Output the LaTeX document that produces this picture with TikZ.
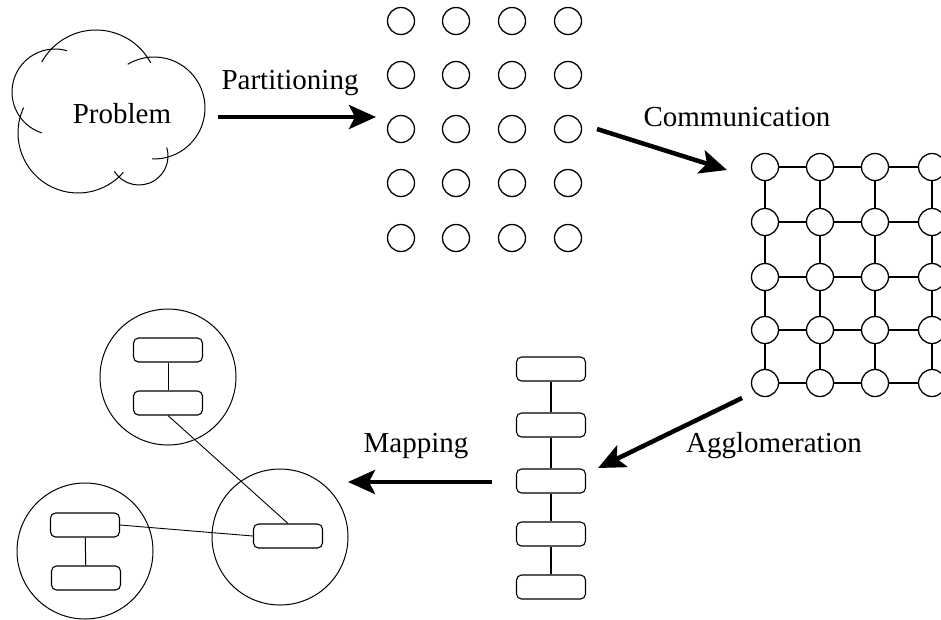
\documentclass[tikz,border=0pt]{standalone}
\usepackage{fontspec}
\setmainfont{Liberation Serif}
\usetikzlibrary{arrows.meta}
\tikzset{
  dot/.style={circle,draw,line width=1.3pt,minimum size=27pt,inner sep=0pt},
  task/.style={rounded corners=5pt,draw,line width=1.1pt,minimum width=69pt,minimum height=24pt,inner sep=0pt},
  proc/.style={circle,draw,line width=1pt,minimum size=136pt,inner sep=0pt},
  puff/.style={line width=1pt},
  lbl/.style={font=\fontsize{29}{32}\selectfont,inner sep=0pt,anchor=base},
  bigarrow/.style={line width=4.5pt,-{Stealth[length=27pt,width=24pt,inset=6pt]}},
}

\begin{document}
\begin{tikzpicture}[x=1pt,y=-1pt]
\useasboundingbox (0,0) rectangle (941,619);
% problem (cloud of overlapping puffs)
\draw[puff] ([shift={(-28:62)}]96,92) arc[start angle=-28,end angle=-151,radius=62];
\draw[puff] ([shift={(-74:43)}]55,92) arc[start angle=-74,end angle=-252,radius=43];
\draw[puff] ([shift={(-155:60)}]78,133) arc[start angle=-155,end angle=-319,radius=60];
\draw[puff] ([shift={(-212:29)}]139,156) arc[start angle=-212,end angle=-377,radius=29];
\draw[puff] ([shift={(92:51)}]154,108) arc[start angle=92,end angle=-121,radius=51];
\node[lbl] (prob) at (122,123) {Problem};

% primitive tasks
\foreach \i/\x in {1/401,2/456,3/512,4/568}
  \foreach \j/\y in {1/21,2/75,3/129,4/183,5/238}
    \node[dot] (p-\i-\j) at (\x,\y) {};

% communication grid
\foreach \i/\x in {1/765,2/820,3/875,4/932}
  \foreach \j/\y in {1/167,2/222,3/277,4/330,5/383}
    \node[dot] (c-\i-\j) at (\x,\y) {};
\foreach \i [count=\k from 2] in {1,2,3}
  \foreach \j in {1,...,5}
    \draw[line width=1.2pt] (c-\i-\j) -- (c-\k-\j);
\foreach \j [count=\k from 2] in {1,2,3,4}
  \foreach \i in {1,...,4}
    \draw[line width=1.2pt] (c-\i-\j) -- (c-\i-\k);

% agglomerated tasks
\foreach \j/\y in {1/369,2/425,3/481,4/534,5/587}
  \node[task] (t-\j) at (551,\y) {};
\foreach \j [count=\k from 2] in {1,2,3,4}
  \draw[line width=1.1pt] (t-\j) -- (t-\k);

% mapping onto processors
\node[proc] (cpu-a) at (168,377) {};
\node[proc] (cpu-b) at (85,551) {};
\node[proc] (cpu-c) at (280,537) {};
\node[task] (m-a1) at (168,350) {};
\node[task] (m-a2) at (168,403) {};
\node[task] (m-b1) at (85,525) {};
\node[task] (m-b2) at (86,578) {};
\node[task] (m-c) at (288,536) {};
\draw[line width=1pt] (m-a1) -- (m-a2);
\draw[line width=1pt] (m-b1) -- (m-b2);
\draw[line width=0.9pt] (m-a2.south) -- (m-c.north);
\draw[line width=0.9pt] (m-b1.east) -- (m-c.west);

% arrows and labels
\coordinate (a1s) at (218,117);
\coordinate (a1e) at (376,117);
\coordinate (a2s) at (597,129);
\coordinate (a2e) at (727,170);
\coordinate (a3s) at (742,398);
\coordinate (a3e) at (598,468);
\coordinate (a4s) at (492,482);
\coordinate (a4e) at (348,482);
\draw[bigarrow] (a1s) -- (a1e);
\draw[bigarrow] (a2s) -- (a2e);
\draw[bigarrow] (a3s) -- (a3e);
\draw[bigarrow] (a4s) -- (a4e);
\node[lbl] (part) at (290,89) {Partitioning};
\node[lbl] (comm) at (737,126) {Communication};
\node[lbl] (aggl) at (774,452) {Agglomeration};
\node[lbl] (mapp) at (416,452) {Mapping};
\end{tikzpicture}
\end{document}
